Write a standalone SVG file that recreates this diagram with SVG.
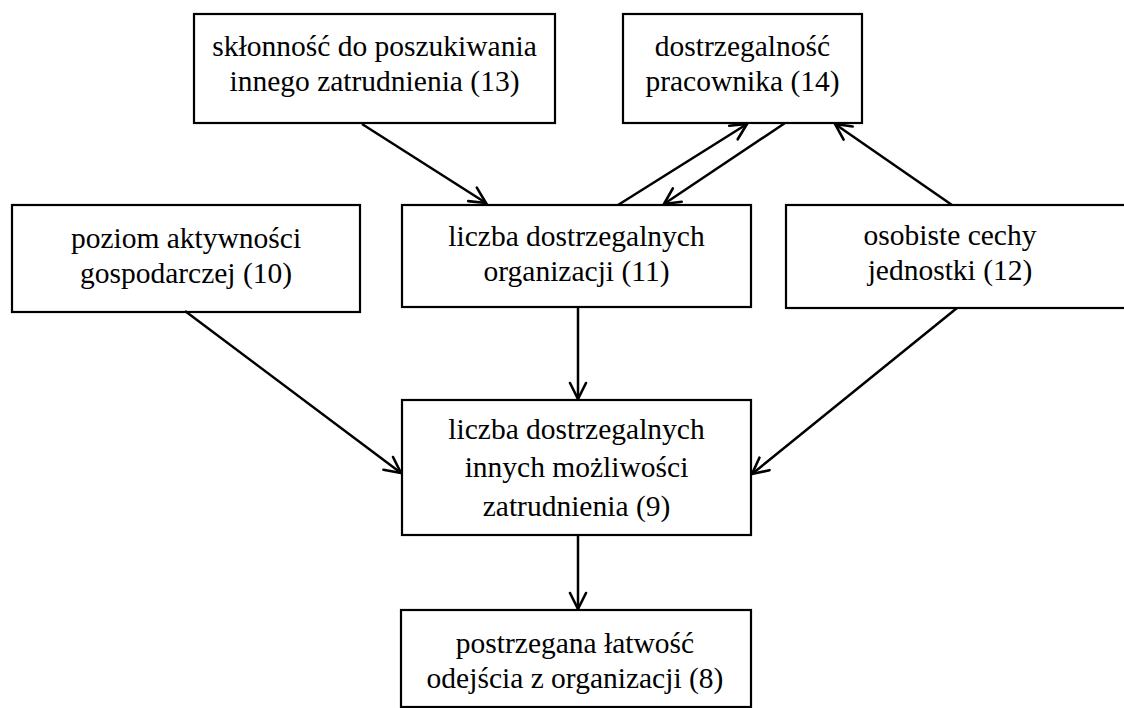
<svg xmlns="http://www.w3.org/2000/svg" width="1124" height="708" viewBox="0 0 1124 708">
  <style>
    .box { fill: #ffffff; stroke: #000000; stroke-width: 2.2; }
    .lbl { font-family: 'Liberation Serif', 'Times New Roman', serif; font-size: 29.5px; fill: #000000; text-anchor: middle; }
    .edge { fill: none; stroke: #000000; stroke-width: 2.5; marker-end: url(#arrow); }
  </style>
  <defs>
    <marker id="arrow" viewBox="0 0 20 20" refX="18" refY="10" markerWidth="20" markerHeight="20" markerUnits="userSpaceOnUse" orient="auto">
      <path d="M2,2 L18,10 L2,18" fill="none" stroke="#000000" stroke-width="2.6" stroke-linecap="round" stroke-linejoin="miter"/>
    </marker>
  </defs>
  <rect width="1124" height="708" fill="#ffffff"/>

  <g id="n13">
    <rect class="box" x="194" y="14" width="361" height="109"/>
    <text class="lbl" x="374.5" y="56">skłonność do poszukiwania</text>
    <text class="lbl" x="374.5" y="91">innego zatrudnienia (13)</text>
  </g>
  <g id="n14">
    <rect class="box" x="623" y="14" width="239" height="109"/>
    <text class="lbl" x="742.5" y="56">dostrzegalność</text>
    <text class="lbl" x="742.5" y="91">pracownika (14)</text>
  </g>
  <g id="n10">
    <rect class="box" x="12" y="205" width="348" height="107"/>
    <text class="lbl" x="186" y="248">poziom aktywności</text>
    <text class="lbl" x="186" y="283">gospodarczej (10)</text>
  </g>
  <g id="n11">
    <rect class="box" x="402" y="205" width="349" height="102"/>
    <text class="lbl" x="576.5" y="246">liczba dostrzegalnych</text>
    <text class="lbl" x="576.5" y="281">organizacji (11)</text>
  </g>
  <g id="n12">
    <rect class="box" x="786" y="205" width="344" height="103"/>
    <text class="lbl" x="950" y="245">osobiste cechy</text>
    <text class="lbl" x="950" y="280">jednostki (12)</text>
  </g>
  <g id="n9">
    <rect class="box" x="402" y="400" width="349" height="135"/>
    <text class="lbl" x="576.5" y="439">liczba dostrzegalnych</text>
    <text class="lbl" x="576.5" y="477">innych możliwości</text>
    <text class="lbl" x="576.5" y="516">zatrudnienia (9)</text>
  </g>
  <g id="n8">
    <rect class="box" x="401" y="610" width="350" height="97"/>
    <text class="lbl" x="575" y="653">postrzegana łatwość</text>
    <text class="lbl" x="575" y="688">odejścia z organizacji (8)</text>
  </g>

  <g id="connectors">
    <line class="edge" x1="362" y1="124" x2="486" y2="203"/>
    <line class="edge" x1="618" y1="205" x2="747" y2="124"/>
    <line class="edge" x1="785" y1="123" x2="664" y2="204"/>
    <line class="edge" x1="952" y1="205" x2="835" y2="124"/>
    <line class="edge" x1="578" y1="307" x2="578" y2="399"/>
    <line class="edge" x1="185" y1="311" x2="401" y2="473"/>
    <line class="edge" x1="957" y1="308" x2="752" y2="474"/>
    <line class="edge" x1="578" y1="535" x2="578" y2="609"/>
  </g>
</svg>
